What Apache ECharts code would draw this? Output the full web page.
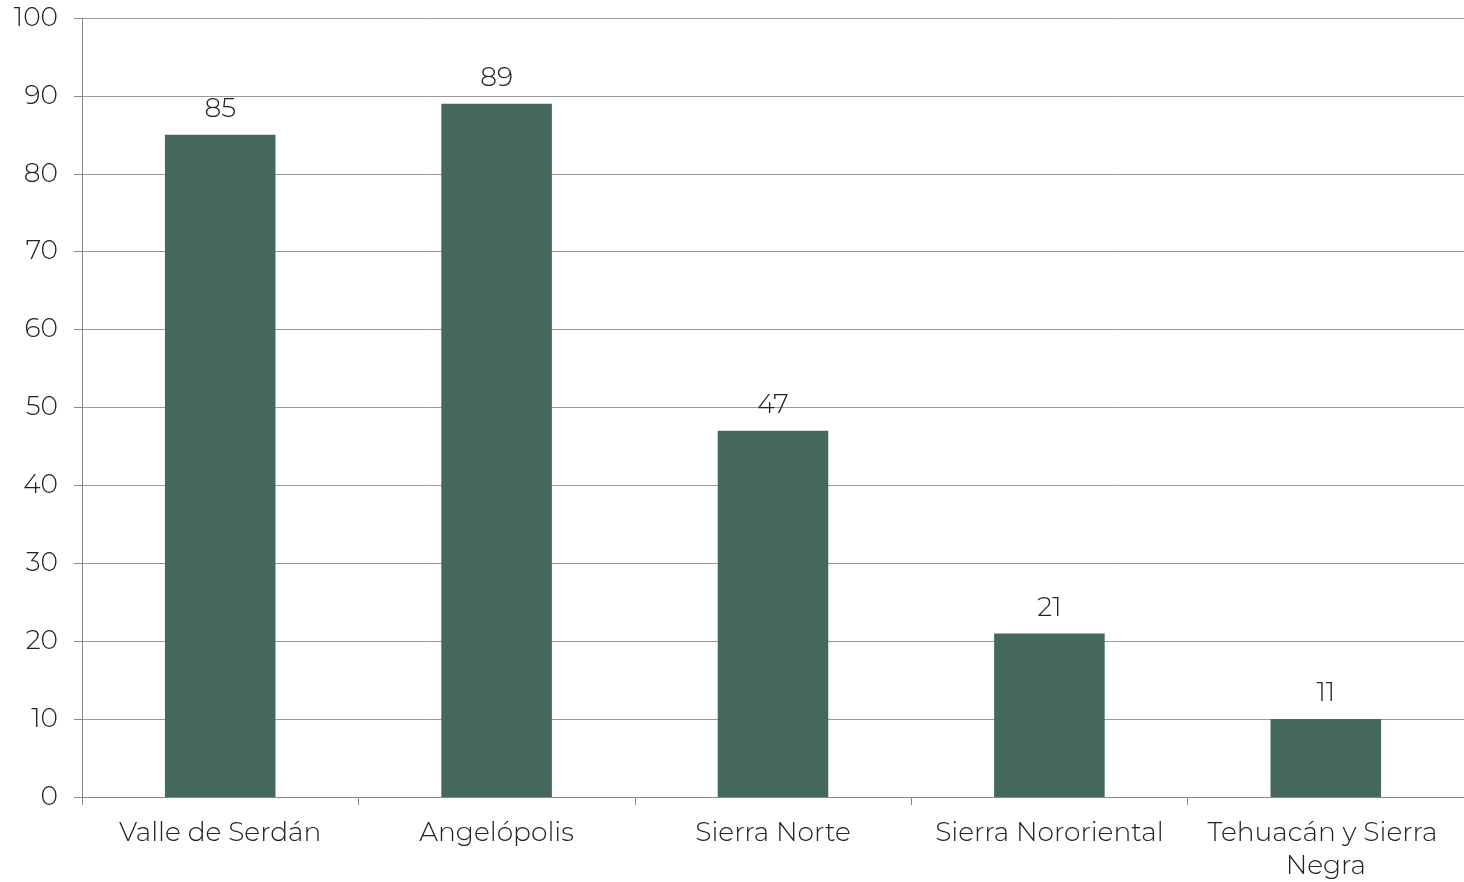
<!DOCTYPE html>
<html><head><meta charset="utf-8">
<script src="https://cdn.jsdelivr.net/npm/echarts@6/dist/echarts.min.js"></script>
<style>html,body{margin:0;padding:0;background:#fff}#c{width:1464px;height:882px}</style>
</head><body><div id="c"></div>
<script>
const categories = ["Valle de Serdán", "Angelópolis", "Sierra Norte", "Sierra Nororiental", "Tehuacán y Sierra Negra"];
const values = [85, 89, 47, 21, 10];
const valueLabels = ["85", "89", "47", "21", "11"];
const yTicks = [0, 10, 20, 30, 40, 50, 60, 70, 80, 90, 100];

const font = "Montserrat, 'DejaVu Sans', sans-serif";
const chart = echarts.init(document.getElementById('c'));
chart.setOption({
  animation: false,
  grid: { left: 82, right: 0, top: 18, bottom: 85, containLabel: false, outerBoundsMode: 'none' },
  xAxis: {
    type: 'category', data: categories,
    axisLine: { lineStyle: { color: '#888', width: 1 } },
    axisTick: { show: true, length: 8, lineStyle: { color: '#888' } },
    axisLabel: { color: '#222', fontFamily: font, fontWeight: 300, fontSize: 26.5, margin: 20, lineHeight: 33, width: 265, overflow: 'break', interval: 0 }
  },
  yAxis: {
    type: 'value', min: yTicks[0], max: yTicks[yTicks.length - 1], interval: 10,
    axisLine: { show: true, lineStyle: { color: '#888' } },
    axisTick: { show: true, length: 8, lineStyle: { color: '#888' } },
    splitLine: { lineStyle: { color: '#999', width: 1 } },
    axisLabel: { color: '#222', fontFamily: font, fontWeight: 300, fontSize: 26.5, margin: 24 }
  },
  series: [{
    type: 'bar', data: values, barWidth: '40%',
    itemStyle: { color: '#44695A' },
    label: { show: true, position: 'top', distance: 12, color: '#222', fontFamily: font, fontWeight: 300, fontSize: 26.5,
      formatter: p => valueLabels[p.dataIndex] }
  }]
});
</script></body></html>
